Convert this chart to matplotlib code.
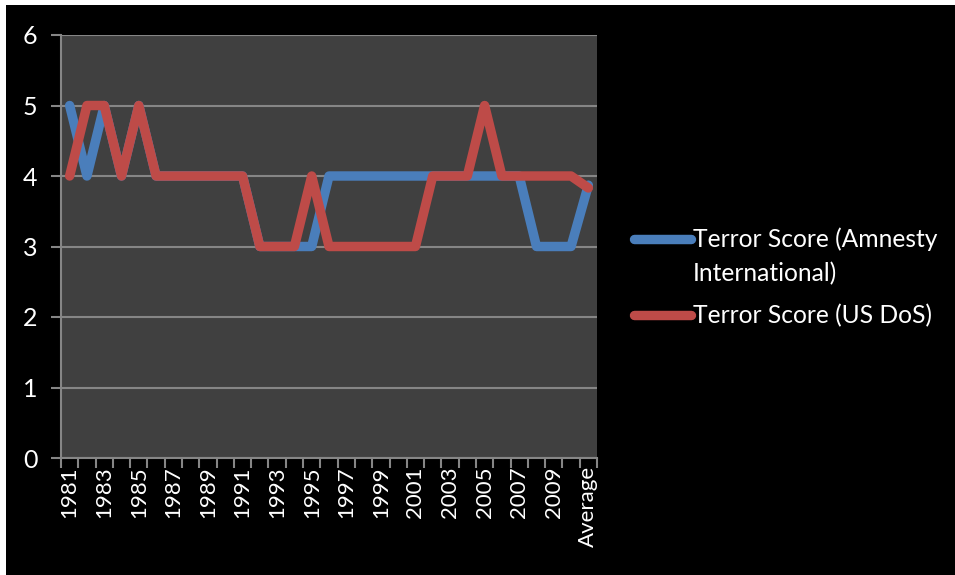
import matplotlib
matplotlib.use('Agg')
import matplotlib.pyplot as plt
from matplotlib.patches import Rectangle
import numpy as np

plt.rcParams['font.family'] = ['Lato', 'DejaVu Sans']

# Yearly political terror scores, plus the average of 1981-2010
years = [str(y) for y in range(1981, 2011)]
categories = years + ['Average']

amnesty = [5, 4, 5, 4, 5, 4, 4, 4, 4, 4, 4, 3, 3, 3, 3,
           4, 4, 4, 4, 4, 4, 4, 4, 4, 4, 4, 4, 3, 3, 3, 3.87]
us_dos = [4, 5, 5, 4, 5, 4, 4, 4, 4, 4, 4, 3, 3, 3, 4,
          3, 3, 3, 3, 3, 3, 4, 4, 4, 5, 4, 4, 4, 4, 4, 3.83]

series_names = ['Terror Score (Amnesty\nInternational)', 'Terror Score (US DoS)']
tick_labels = [c for i, c in enumerate(categories) if i % 2 == 0]

fig = plt.figure(figsize=(9.55, 5.75), dpi=100, facecolor='white')
# black chart area, leaving a thin white edge top and left
fig.patches.append(Rectangle((6 / 955, -0.1), 2, 1.1 - 5 / 575,
                             transform=fig.transFigure, facecolor='black',
                             edgecolor='none', zorder=-10))

ax = fig.add_axes([61 / 955, 1 - 458 / 575, 536 / 955, 423 / 575])
ax.set_facecolor('#404040')

x = np.arange(len(categories))
ax.plot(x, amnesty, color='#4A7EBB', lw=6.8, solid_capstyle='round',
        solid_joinstyle='round', label=series_names[0], zorder=3)
ax.plot(x, us_dos, color='#BE4B48', lw=6.8, solid_capstyle='round',
        solid_joinstyle='round', label=series_names[1], zorder=4)

ax.set_xlim(-0.5, len(categories) - 0.5)
ax.set_ylim(0, 6)
ax.set_yticks(range(7))
ax.yaxis.grid(True, color='#868686', lw=1.5)
ax.set_axisbelow(True)

ax.set_xticks(np.arange(-0.5, len(categories)), minor=False)
ax.set_xticklabels([])
ax.set_xticks(x[::2], minor=True)
ax.set_xticklabels(tick_labels, minor=True, rotation=90, color='white',
                   fontsize=16)
ax.tick_params(axis='x', which='minor', length=0, pad=6)
ax.tick_params(axis='x', which='major', length=7, width=1.5, color='#868686')
ax.tick_params(axis='y', length=7, width=1.5, color='#868686',
               labelcolor='white', labelsize=18, pad=10)

for side in ['top', 'right']:
    ax.spines[side].set_visible(False)
for side in ['left', 'bottom']:
    ax.spines[side].set_color('#868686')
    ax.spines[side].set_linewidth(1.5)

leg = ax.legend(loc='upper left', bbox_to_anchor=(634 / 955, 1 - 227 / 575),
                bbox_transform=fig.transFigure, frameon=False, borderpad=0,
                borderaxespad=0, fontsize=17.7, labelcolor='white',
                handlelength=2.3, handletextpad=0.1, labelspacing=0.75)
for t in leg.get_texts():
    t.set_linespacing(1.6)
# put the first key line level with the first row of its wrapped label
h = leg.legend_handles[0]
h.set_ydata(np.asarray(h.get_ydata()) + 13)

fig.savefig('out.png', dpi=100, facecolor=fig.get_facecolor())
